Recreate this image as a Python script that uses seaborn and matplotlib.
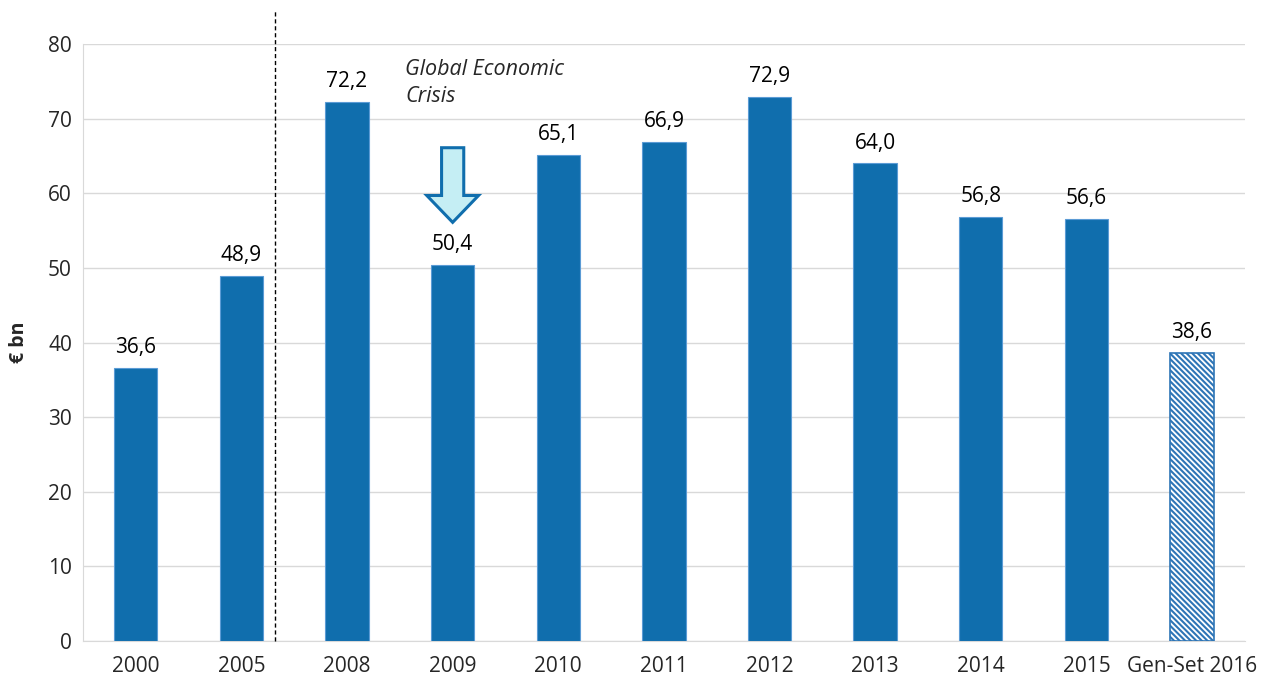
import matplotlib
matplotlib.use("Agg")
import matplotlib.pyplot as plt
import seaborn as sns
import pandas as pd
from matplotlib.patches import FancyArrow

categories = ["2000", "2005", "2008", "2009", "2010", "2011", "2012", "2013", "2014", "2015", "Gen-Set 2016"]
values = [36.6, 48.9, 72.2, 50.4, 65.1, 66.9, 72.9, 64.0, 56.8, 56.6, 38.6]
value_labels = ["36,6", "48,9", "72,2", "50,4", "65,1", "66,9", "72,9", "64,0", "56,8", "56,6", "38,6"]
y_ticks = [0, 10, 20, 30, 40, 50, 60, 70, 80]

sns.set_style("white")
plt.rcParams['font.family'] = ['Open Sans', 'DejaVu Sans']
plt.rcParams['hatch.linewidth'] = 1.5

bar_color = "#106ead"
df = pd.DataFrame({"Year": categories, "Value": values})

fig = plt.figure(figsize=(12.67, 6.82), dpi=100)
ax = fig.add_axes([0.0655, 0.0601, 0.917, 0.8754])

sns.barplot(data=df, x="Year", y="Value", color=bar_color, width=0.41,
            saturation=1, ax=ax, zorder=3)

for p in ax.patches:
    p.set_edgecolor("#5b9bd5")
    p.set_linewidth(0.8)

# last bar is forecast -> hatched
last = ax.patches[-1]
last.set_facecolor("white")
last.set_edgecolor("#2e75b6")
last.set_hatch("\\\\\\\\\\\\")
last.set_linewidth(1.2)

for i, (v, lab) in enumerate(zip(values, value_labels)):
    ax.text(i, v + 1.3, lab, ha="center", va="bottom", fontsize=15, color="black")

ax.set_ylim(0, 80)
ax.set_xlim(-0.5, len(categories) - 0.5)
ax.set_yticks(y_ticks)
ax.yaxis.grid(True, color="#d9d9d9", linewidth=1)
ax.set_axisbelow(True)
ax.tick_params(axis="y", length=0, labelsize=15, pad=8)
ax.tick_params(axis="x", which="major", length=0, labelsize=15, pad=11)
ax.set_xticks([i - 0.5 for i in range(len(categories) + 1)], minor=True)
ax.tick_params(axis="x", which="minor", length=7, color="#d9d9d9", width=1)

for s in ["top", "right"]:
    ax.spines[s].set_visible(False)
ax.spines["left"].set_color("#d9d9d9")
ax.spines["bottom"].set_color("#d9d9d9")

ax.set_xlabel("")
ax.set_ylabel("€ bn", fontsize=14, fontweight="bold", labelpad=14)

# separator between the early years and the yearly series
ax.plot([1.32, 1.32], [0, 84.5], linestyle=(0, (3, 2)), color="black",
        linewidth=1, clip_on=False, zorder=4)

# crisis annotation
ax.text(2.55, 78.0, "Global Economic\nCrisis", style="italic", fontsize=15.5,
        ha="left", va="top", linespacing=1.35)
arrow = FancyArrow(3, 66.1, 0, -10.0, width=0.21, head_width=0.49,
                   head_length=3.6, length_includes_head=True,
                   facecolor="#c5eef4", edgecolor="#106ead", linewidth=2.2, zorder=5)
ax.add_patch(arrow)

fig.savefig("out.png", dpi=100)
